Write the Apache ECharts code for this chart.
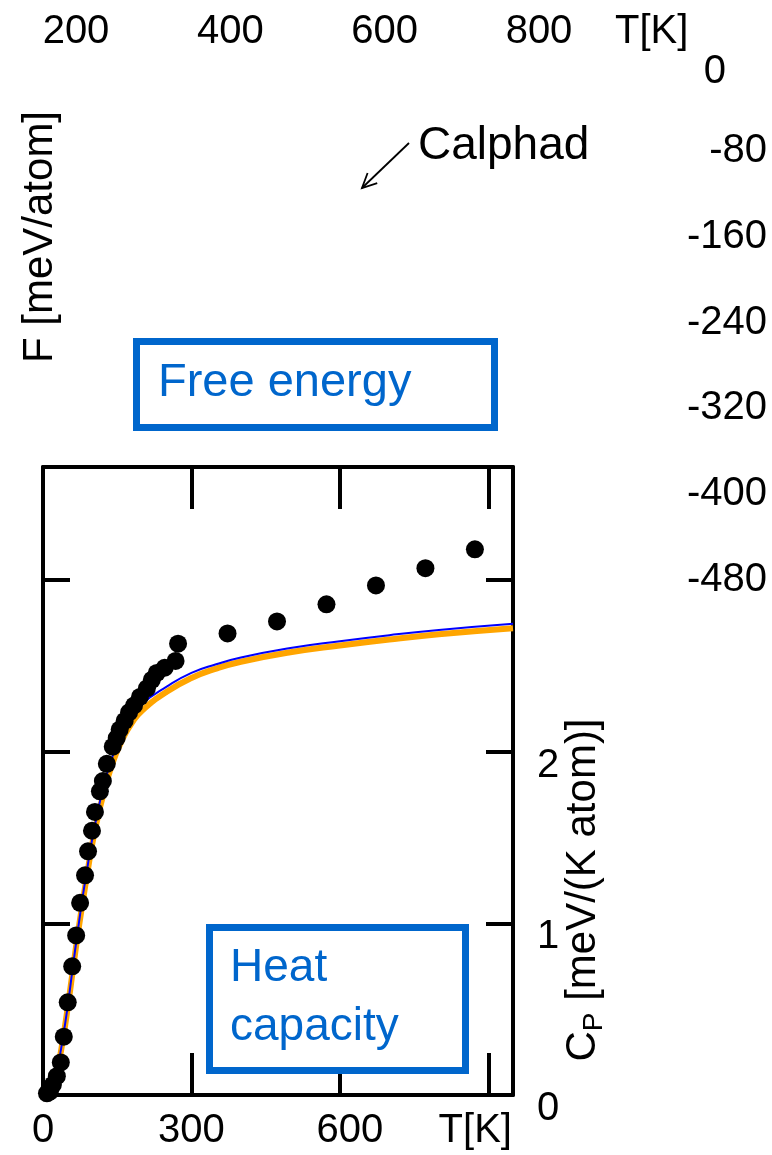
<!DOCTYPE html>
<html>
<head>
<meta charset="utf-8">
<script src="https://cdn.jsdelivr.net/npm/echarts@6/dist/echarts.min.js"></script>
<style>
html, body { margin: 0; padding: 0; background: #fff; }
#chart { width: 772px; height: 1155px; }
</style>
</head>
<body>
<div id="chart"></div>
<script>
// free energy panel (only its tick labels are visible)
var fTempTicks = [200, 400, 600, 800];
var fTicks = [0, -80, -160, -240, -320, -400, -480];

// heat capacity panel
var cpTempTicks = [0, 300, 600, 900];
var cpTempLabels = ['0', '300', '600', 'T[K]'];
var cpTicks = [0, 1, 2];
var cpTickLabels = ['0', '1', '2'];

// measured points (black dots)
var expT  = [8, 14, 20, 28, 36, 42, 50, 59, 67, 75, 85, 91, 99, 105, 115, 121, 129, 141, 149, 155,
             165, 174, 184, 196, 210, 220, 230, 246, 268, 273, 373, 473, 573, 673, 773, 873];
var expCp = [0.01, 0.02, 0.06, 0.11, 0.19, 0.34, 0.54, 0.75, 0.93, 1.12, 1.28, 1.42, 1.54, 1.65, 1.77, 1.83, 1.93, 2.03, 2.08, 2.13,
             2.18, 2.23, 2.27, 2.32, 2.37, 2.42, 2.46, 2.49, 2.53, 2.63, 2.69, 2.76, 2.86, 2.97, 3.07, 3.18];

// calculated curves
var calcT      = [0, 10, 20, 30, 40, 50, 60, 70, 80, 90, 100, 110, 120, 140, 160, 180, 200, 250, 300, 350, 400, 500, 600, 700, 800, 950];
var calcBlue   = [0, 0.01, 0.06, 0.17, 0.33, 0.52, 0.74, 0.95, 1.15, 1.33, 1.50, 1.64, 1.77, 1.97, 2.11, 2.21, 2.28, 2.38, 2.46, 2.51, 2.55, 2.605, 2.645, 2.68, 2.71, 2.746];
var calcOrange = [0, 0.01, 0.055, 0.16, 0.32, 0.51, 0.72, 0.93, 1.12, 1.30, 1.47, 1.61, 1.73, 1.93, 2.07, 2.17, 2.24, 2.35, 2.43, 2.485, 2.525, 2.58, 2.62, 2.655, 2.685, 2.72];

function zip(xs, ys) {
    return xs.map(function(x, i) { return [x, ys[i]]; });
}

var FONT = "'Liberation Sans', Arial, sans-serif";
var BLUE_BOX = '#0066CC';

var chart = echarts.init(document.getElementById('chart'), null, { renderer: 'canvas' });

// arrow next to "Calphad"
var arrowFrom = [409, 143], arrowTo = [362, 188];
function arrowHead(from, to, len, ang) {
    var dx = from[0] - to[0], dy = from[1] - to[1];
    var n = Math.sqrt(dx * dx + dy * dy);
    dx /= n; dy /= n;
    var c = Math.cos(ang), s = Math.sin(ang);
    return [
        [to[0] + len * (dx * c - dy * s), to[1] + len * (dx * s + dy * c)],
        to,
        [to[0] + len * (dx * c + dy * s), to[1] + len * (-dx * s + dy * c)]
    ];
}

var axisBlack = { color: '#000', width: 4 };

chart.setOption({
    animation: false,
    backgroundColor: '#fff',
    textStyle: { fontFamily: FONT, color: '#000' },
    grid: [
        { left: 76, top: 65, width: 463, height: 515 },
        { left: 43, top: 467, width: 470, height: 628 }
    ],
    xAxis: [
        {
            gridIndex: 0, type: 'value', position: 'top',
            min: 200, max: 800, interval: 200,
            axisLine: { show: false, onZero: false }, axisTick: { show: false }, splitLine: { show: false },
            axisLabel: {
                fontSize: 40, color: '#000', margin: 13, fontFamily: FONT,
                formatter: function(v) { return fTempTicks.indexOf(v) >= 0 ? String(v) : ''; }
            }
        },
        {
            gridIndex: 1, type: 'value', position: 'bottom',
            min: 0, max: 950, interval: 300,
            axisLine: { onZero: false, lineStyle: axisBlack },
            axisTick: { inside: true, length: 42, lineStyle: axisBlack },
            splitLine: { show: false },
            axisLabel: {
                fontSize: 40, color: '#000', margin: 16, fontFamily: FONT,
                formatter: function(v) {
                    var i = cpTempTicks.indexOf(v);
                    if (i < 0) return '';
                    if (v === 600) return '{r|' + cpTempLabels[i] + '}';
                    if (v === 900) return '{l|' + cpTempLabels[i] + '}';
                    return cpTempLabels[i];
                },
                rich: {
                    r: { fontSize: 40, fontFamily: FONT, color: '#000', padding: [0, 0, 0, 20] },
                    l: { fontSize: 40, fontFamily: FONT, color: '#000', padding: [0, 26, 0, 0] }
                }
            }
        },
        {
            gridIndex: 1, type: 'value', position: 'top',
            min: 0, max: 950, interval: 300,
            axisLine: { onZero: false, lineStyle: axisBlack },
            axisTick: { inside: true, length: 42, lineStyle: axisBlack },
            splitLine: { show: false },
            axisLabel: { show: false }
        }
    ],
    yAxis: [
        {
            gridIndex: 0, type: 'value', position: 'right',
            min: -480, max: 0, interval: 80,
            axisLine: { show: false, onZero: false }, axisTick: { show: false }, splitLine: { show: false },
            axisLabel: {
                fontSize: 40, color: '#000', margin: 228, align: 'right', fontFamily: FONT,
                formatter: function(v) {
                    if (fTicks.indexOf(v) < 0) return '';
                    return v === 0 ? '{z|0}' : String(v);
                },
                rich: { z: { fontSize: 40, fontFamily: FONT, padding: [14, 41, 0, 0] } }
            }
        },
        {
            gridIndex: 1, type: 'value', position: 'left',
            min: 0, max: 3.66, interval: 1,
            axisLine: { onZero: false, lineStyle: axisBlack },
            axisTick: { inside: true, length: 27, lineStyle: axisBlack },
            splitLine: { show: false },
            axisLabel: { show: false }
        },
        {
            gridIndex: 1, type: 'value', position: 'right',
            min: 0, max: 3.66, interval: 1,
            axisLine: { onZero: false, lineStyle: axisBlack },
            axisTick: { inside: true, length: 27, lineStyle: axisBlack },
            splitLine: { show: false },
            axisLabel: {
                fontSize: 40, color: '#000', margin: 24, fontFamily: FONT,
                verticalAlign: 'top', lineHeight: 28,
                formatter: function(v) {
                    var i = cpTicks.indexOf(v);
                    return i >= 0 ? cpTickLabels[i] : '';
                }
            }
        }
    ],
    series: [
        {
            name: 'calc2', type: 'line', xAxisIndex: 1, yAxisIndex: 1,
            data: zip(calcT, calcOrange), smooth: true, showSymbol: false,
            lineStyle: { color: '#FFA500', width: 6 }, z: 2
        },
        {
            name: 'calc1', type: 'line', xAxisIndex: 1, yAxisIndex: 1,
            data: zip(calcT, calcBlue), smooth: true, showSymbol: false,
            lineStyle: { color: '#0000FF', width: 2 }, z: 3
        },
        {
            name: 'exp', type: 'scatter', xAxisIndex: 1, yAxisIndex: 1,
            data: zip(expT, expCp), symbolSize: 18, clip: false,
            itemStyle: { color: '#000', opacity: 1 }, z: 4
        }
    ],
    graphic: [
        {
            type: 'text', x: 615, y: 32,
            style: { text: 'T[K]', fontSize: 40, fontFamily: FONT, fill: '#000', align: 'left', verticalAlign: 'middle' }
        },
        {
            type: 'text', x: 40, y: 237, rotation: Math.PI / 2,
            style: { text: 'F [meV/atom]', fontSize: 42, fontFamily: FONT, fill: '#000', align: 'center', verticalAlign: 'middle' }
        },
        {
            type: 'text', x: 418, y: 146,
            style: { text: 'Calphad', fontSize: 46, fontFamily: FONT, fill: '#000', align: 'left', verticalAlign: 'middle' }
        },
        {
            type: 'line', shape: { x1: arrowFrom[0], y1: arrowFrom[1], x2: arrowTo[0], y2: arrowTo[1] },
            style: { stroke: '#000', lineWidth: 1.8 }
        },
        {
            type: 'polyline', shape: { points: arrowHead(arrowFrom, arrowTo, 16, 0.45) },
            style: { stroke: '#000', lineWidth: 1.8, fill: null }
        },
        {
            type: 'rect', shape: { x: 136.5, y: 341.5, width: 358, height: 86 },
            style: { stroke: BLUE_BOX, lineWidth: 7, fill: '#fff' }
        },
        {
            type: 'text', x: 158, y: 383,
            style: { text: 'Free energy', fontSize: 47, fontFamily: FONT, fill: BLUE_BOX, align: 'left', verticalAlign: 'middle' }
        },
        {
            type: 'rect', shape: { x: 209.5, y: 927.5, width: 256, height: 143 }, z: 100,
            style: { stroke: BLUE_BOX, lineWidth: 7, fill: '#fff' }
        },
        {
            type: 'text', x: 230, y: 968, z: 101,
            style: { text: 'Heat', fontSize: 46, fontFamily: FONT, fill: BLUE_BOX, align: 'left', verticalAlign: 'middle' }
        },
        {
            type: 'text', x: 230, y: 1027, z: 101,
            style: { text: 'capacity', fontSize: 46, fontFamily: FONT, fill: BLUE_BOX, align: 'left', verticalAlign: 'middle' }
        },
        {
            type: 'text', x: 583, y: 890, rotation: Math.PI / 2,
            style: {
                text: '{a|C}{b|P}{a| [meV/(K atom)]}', fontFamily: FONT, fill: '#000',
                align: 'center', verticalAlign: 'middle',
                rich: {
                    a: { fontSize: 42, fontFamily: FONT, fill: '#000' },
                    b: { fontSize: 28, fontFamily: FONT, fill: '#000', padding: [22, 0, 0, 0] }
                }
            }
        }
    ]
});
</script>
</body>
</html>
